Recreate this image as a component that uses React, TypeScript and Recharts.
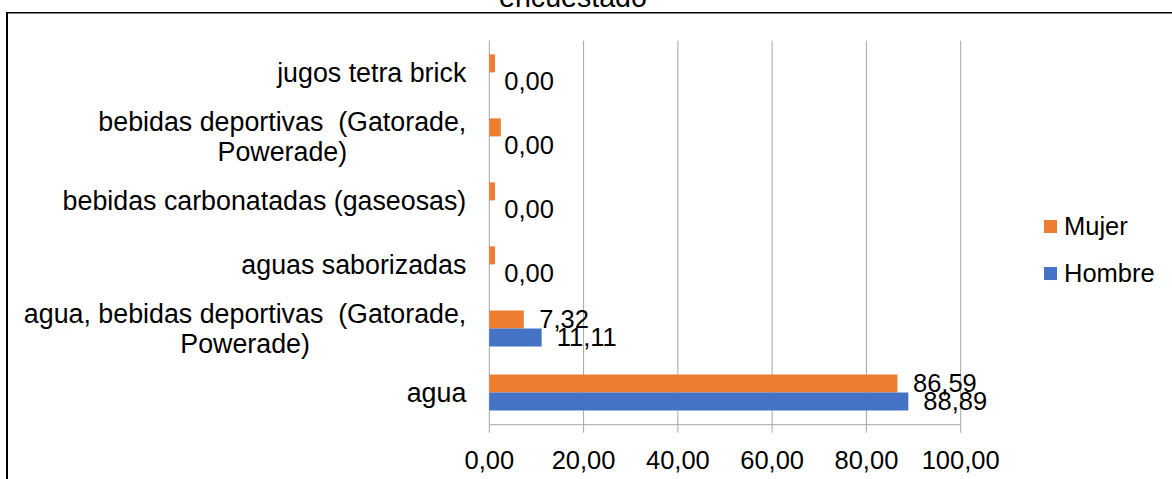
import React from "react";
import {
  BarChart,
  Bar,
  XAxis,
  YAxis,
  CartesianGrid,
  Legend,
  LabelList,
} from "recharts";

// ---- data ----
const categories = [
  "jugos tetra brick",
  "bebidas deportivas  (Gatorade, Powerade)",
  "bebidas carbonatadas (gaseosas)",
  "aguas saborizadas",
  "agua, bebidas deportivas  (Gatorade, Powerade)",
  "agua",
];
const categoryLines = [
  ["jugos tetra brick"],
  ["bebidas deportivas  (Gatorade,", "Powerade)"],
  ["bebidas carbonatadas (gaseosas)"],
  ["aguas saborizadas"],
  ["agua, bebidas deportivas  (Gatorade,", "Powerade)"],
  ["agua"],
];
const mujerValues = [1.22, 2.44, 1.22, 1.22, 7.32, 86.59];
const mujerLabelValues = [null, null, null, null, 7.32, 86.59];
const hombreValues = [0, 0, 0, 0, 11.11, 88.89];
const xTicks = [0, 20, 40, 60, 80, 100];
const edgeTicks = [0, 1, 2, 3, 4, 5, 6];
const seriesNames = ["Mujer", "Hombre"];
const seriesColors = ["#ED7D31", "#4472C4"];
const titleText = "encuestado";

const data = categories.map((name, i) => ({
  name,
  Mujer: mujerValues[i],
  mujerLabel: mujerLabelValues[i],
  Hombre: hombreValues[i],
}));

const FONT = '"Liberation Sans", Arial, sans-serif';
const CAT_FONT = 26.8;
const NUM_FONT = 25.5;
const GRID = "#A6A6A6";

const fmt = (v: any) =>
  v === null || v === undefined ? "" : Number(v).toFixed(2).replace(".", ",");

let ctx: CanvasRenderingContext2D | null = null;
const measure = (t: string) => {
  if (!ctx) ctx = document.createElement("canvas").getContext("2d");
  if (!ctx) return t.length * CAT_FONT * 0.5;
  ctx.font = `${CAT_FONT}px "Liberation Sans"`;
  return ctx.measureText(t).width;
};

function CategoryTick(props: any) {
  const { x, y, payload } = props;
  const idx = categories.indexOf(payload.value);
  const lines = categoryLines[idx] || [String(payload.value)];
  const lh = 30;
  const startY = y - ((lines.length - 1) * lh) / 2;
  const w0 = measure(lines[0]);
  return (
    <g>
      {lines.map((l, i) => (
        <text
          key={i}
          x={i === 0 ? x : x - w0 / 2}
          y={startY + i * lh}
          dy="0.355em"
          textAnchor={i === 0 ? "end" : "middle"}
          fontFamily={FONT}
          fontSize={CAT_FONT}
          fill="#000"
          style={{ whiteSpace: "pre" }}
        >
          {l}
        </text>
      ))}
    </g>
  );
}

function LegendContent() {
  return (
    <div style={{ fontFamily: FONT }}>
      {seriesNames.map((n, i) => (
        <div
          key={n}
          style={{ display: "flex", alignItems: "center", height: 47 }}
        >
          <span
            style={{
              display: "inline-block",
              width: 13,
              height: 13,
              background: seriesColors[i],
            }}
          />
          <span
            style={{
              marginLeft: 7,
              fontSize: NUM_FONT,
              color: "#000",
              lineHeight: 1,
            }}
          >
            {n}
          </span>
        </div>
      ))}
    </div>
  );
}

export default function App() {
  return (
    <div
      style={{
        position: "absolute",
        left: 0,
        top: 0,
        width: 1172,
        height: 479,
        background: "#fff",
        fontFamily: FONT,
        overflow: "hidden",
      }}
    >
      <BarChart
        width={1172}
        height={479}
        data={data}
        layout="vertical"
        margin={{ top: 40.7, right: 211.3, bottom: 0, left: 0 }}
        barCategoryGap="21.4%"
        barGap={0}
      >
        <CartesianGrid horizontal={false} vertical={true} stroke={GRID} />
        <XAxis
          type="number"
          domain={[0, 100]}
          ticks={xTicks}
          tickFormatter={fmt}
          height={54.3}
          tickSize={8}
          tickMargin={18}
          stroke={GRID}
          tick={{ fontSize: NUM_FONT, fill: "#000", fontFamily: FONT }}
          interval={0}
        />
        <YAxis
          yAxisId="edge"
          type="number"
          domain={[0, 6]}
          ticks={edgeTicks}
          tick={false}
          tickSize={8}
          width={0}
          stroke={GRID}
          interval={0}
          allowDataOverflow
        />
        <YAxis
          yAxisId="cat"
          type="category"
          dataKey="name"
          width={489.3}
          tickSize={0}
          tickMargin={23}
          axisLine={false}
          tickLine={false}
          tick={<CategoryTick />}
          interval={0}
        />
        <Legend
          layout="vertical"
          align="center"
          verticalAlign="middle"
          content={<LegendContent />}
          wrapperStyle={{ left: 1044, top: 203, width: 130 }}
        />
        <Bar
          yAxisId="cat"
          dataKey="Mujer"
          fill={seriesColors[0]}
          isAnimationActive={false}
        >
          <LabelList
            dataKey="mujerLabel"
            position="right"
            offset={15.5}
            formatter={fmt}
            style={{ fontSize: NUM_FONT, fill: "#000", fontFamily: FONT }}
          />
        </Bar>
        <Bar
          yAxisId="cat"
          dataKey="Hombre"
          fill={seriesColors[1]}
          minPointSize={0.01}
          isAnimationActive={false}
        >
          <LabelList
            dataKey="Hombre"
            position="right"
            offset={15}
            formatter={fmt}
            style={{ fontSize: NUM_FONT, fill: "#000", fontFamily: FONT }}
          />
        </Bar>
      </BarChart>
      <svg
        width={1172}
        height={479}
        style={{ position: "absolute", left: 0, top: 0, pointerEvents: "none" }}
      >
        <text
          x={573}
          y={7}
          textAnchor="middle"
          fontFamily={FONT}
          fontSize={28.6}
          fill="#000"
        >
          {titleText}
        </text>
        <line x1={7} y1={12} x2={7} y2={479} stroke="#000" strokeWidth={2} />
        <line x1={6} y1={12.75} x2={1172} y2={12.75} stroke="#000" strokeWidth={1.5} />
      </svg>
    </div>
  );
}
